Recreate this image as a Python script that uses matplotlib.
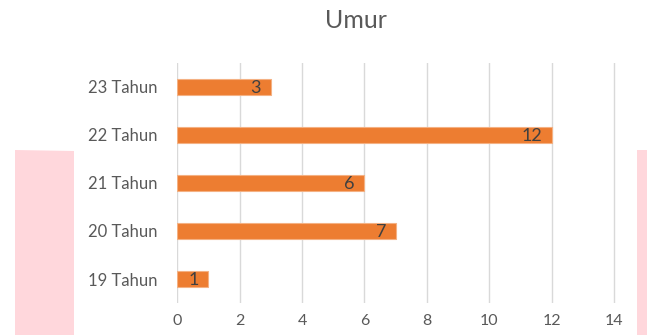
import matplotlib.pyplot as plt
from matplotlib.patches import Polygon

# data
categories = ['19 Tahun', '20 Tahun', '21 Tahun', '22 Tahun', '23 Tahun']
values = [1, 7, 6, 12, 3]
xticks = [0, 2, 4, 6, 8, 10, 12, 14]

plt.rcParams['font.family'] = ['Lato', 'DejaVu Sans']

fig = plt.figure(figsize=(6.47, 3.35), dpi=100)
ax = fig.add_axes([0.2736, 0.0955, 0.6785, 0.7165])

# pink background shapes at the edges
fig.patches.append(Polygon([[15/647, 0], [74/647, 0], [74/647, 1-151/335], [15/647, 1-150/335]],
                           closed=True, transform=fig.transFigure, facecolor='#FFD7DC',
                           edgecolor='none', zorder=0))
fig.patches.append(Polygon([[637/647, 0], [1, 0], [1, 1-150/335], [637/647, 1-150/335]],
                           closed=True, transform=fig.transFigure, facecolor='#FFD7DC',
                           edgecolor='none', zorder=0))

ypos = range(len(categories))
ax.barh(ypos, values, height=0.34, color='#ED7D31', edgecolor='#F4B183', linewidth=0.8, zorder=3)

for y, v in zip(ypos, values):
    ax.annotate(str(v), xy=(v, y), xytext=(-7, -1), textcoords='offset points',
                ha='right', va='center', fontsize=13, color='#404040', zorder=4)

ax.set_xlim(0, 14.05)
ax.set_ylim(-0.5, 4.5)
ax.set_xticks(xticks)
ax.set_yticks(list(ypos))
ax.set_yticklabels(categories)
ax.grid(axis='x', color='#D9D9D9', linewidth=1, zorder=0)
ax.set_axisbelow(True)
for s in ax.spines.values():
    s.set_visible(False)
ax.tick_params(axis='y', length=0, labelsize=12, colors='#595959', pad=14)
ax.tick_params(axis='x', length=0, labelsize=11.5, colors='#595959', pad=8)

fig.text(356/647, 1-20/335, 'Umur', ha='center', va='center', fontsize=18, color='#595959')

fig.savefig('out.png', dpi=100)
